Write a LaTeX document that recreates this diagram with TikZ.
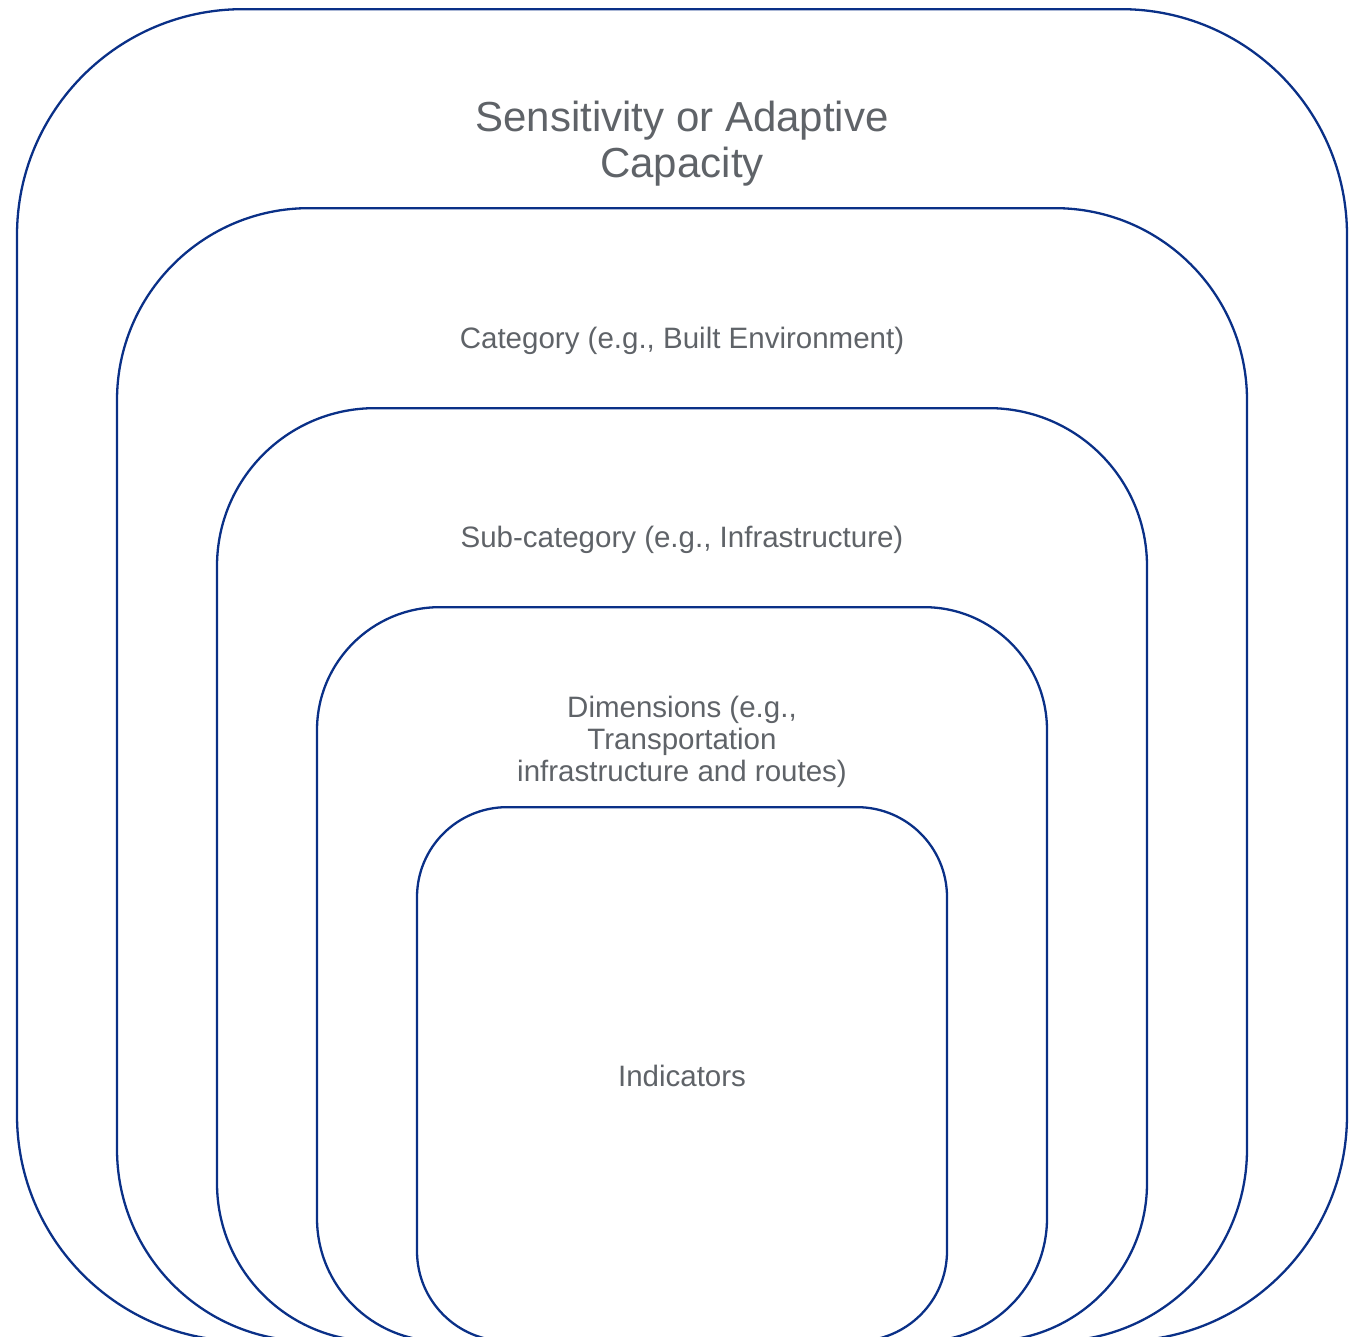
\documentclass[tikz,border=0pt]{standalone}
\usepackage{fontspec}
\setmainfont{Liberation Sans}
\definecolor{framecol}{RGB}{10,48,135}
\definecolor{labelcol}{RGB}{95,99,104}
\begin{document}
\begin{tikzpicture}[x=1pt,y=-1pt,
  layer/.style={draw=framecol, line width=2.3pt, fill=none, rectangle, inner sep=0pt, anchor=north},
  caption/.style={text=labelcol, inner sep=0pt, anchor=base, align=center,
    font=\fontsize{29.5}{32}\selectfont},
  bigcaption/.style={caption, font=\fontsize{42}{46}\selectfont}]
  \useasboundingbox (0,0) rectangle (1357,1336);
  \clip (0,0) rectangle (1357,1336);
  % nested levels, each open past the lower edge
  \node[layer, minimum width=1330pt, minimum height=1332pt, rounded corners=226pt] (lvlA) at (682,8) {};
  \node[layer, minimum width=1130pt, minimum height=1133pt, rounded corners=192pt] (lvlB) at (682,207) {};
  \node[layer, minimum width=930pt, minimum height=933pt, rounded corners=158pt] (lvlC) at (682,407) {};
  \node[layer, minimum width=730pt, minimum height=734pt, rounded corners=123pt] (lvlD) at (682,606) {};
  \node[layer, minimum width=530pt, minimum height=534pt, rounded corners=90pt] (lvlE) at (682,806) {};
  % labels (base anchor sits on the last line)
  \node[bigcaption] (tA) at (682,177.5) {Sensitivity or Adaptive\\Capacity};
  \node[caption] (tB) at (682,348) {Category (e.g., Built Environment)};
  \node[caption] (tC) at (682,547) {Sub-category (e.g., Infrastructure)};
  \node[caption] (tD) at (682,781) {Dimensions (e.g.,\\Transportation\\infrastructure and routes)};
  \node[caption] (tE) at (682,1086) {Indicators};
\end{tikzpicture}
\end{document}
